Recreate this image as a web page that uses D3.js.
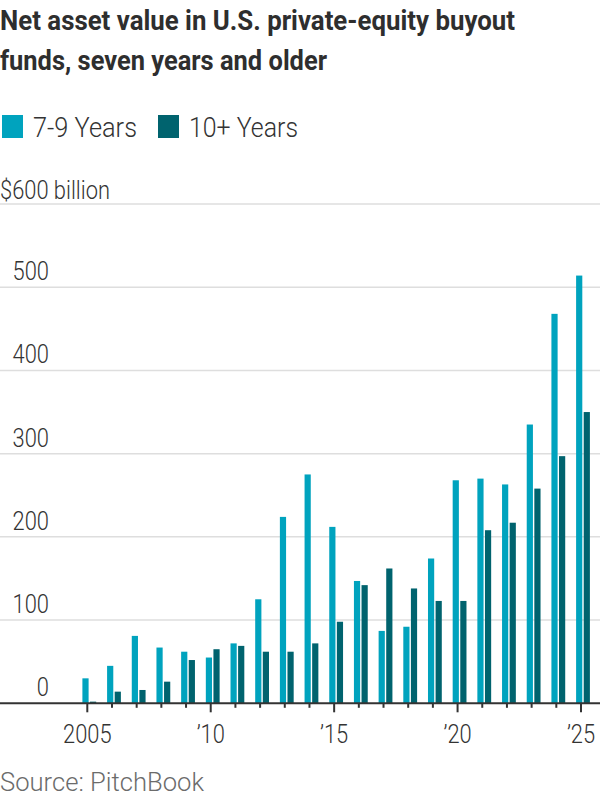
<!DOCTYPE html>
<html>
<head>
<meta charset="utf-8">
<script src="https://cdn.jsdelivr.net/npm/d3@7"></script>
<style>
  body { margin: 0; background: #fff; }
  svg { display: block; }
  text { font-family: Roboto, "Noto Sans", sans-serif; fill: #333; }
</style>
</head>
<body>
<div id="chart"></div>
<script>
'use strict';

// data ($ billion)
var years = [2005, 2006, 2007, 2008, 2009, 2010, 2011, 2012, 2013, 2014, 2015,
  2016, 2017, 2018, 2019, 2020, 2021, 2022, 2023, 2024, 2025];
var sevenToNine = [30, 45, 81, 67, 62, 55, 72, 125, 224, 275, 212,
  147, 87, 92, 174, 268, 270, 263, 335, 468, 514];
var tenPlus = [2, 14, 16, 26, 52, 65, 69, 62, 62, 72, 98,
  142, 162, 138, 123, 123, 208, 217, 258, 297, 350];
var seriesNames = ['7-9 Years', '10+ Years'];
var seriesColors = ['#00a3be', '#00636e'];
var yTicks = [0, 100, 200, 300, 400, 500, 600];
var xLabels = {2005: '2005', 2010: '\u201910', 2015: '\u201915', 2020: '\u201920', 2025: '\u201925'};

var width = 600, height = 800;

// the original uses a narrow face, so squeeze Roboto to the same widths
function squeeze(sel, w) {
  sel.each(function () {
    var len = w || this.getComputedTextLength() * 0.875;
    d3.select(this).attr('textLength', len).attr('lengthAdjust', 'spacingAndGlyphs');
  });
}

var svg = d3.select('#chart')
  .append('svg')
  .attr('width', width)
  .attr('height', height);

// title
svg.append('text')
  .attr('x', 0)
  .attr('y', 30)
  .attr('font-size', '28px')
  .attr('font-weight', 'bold')
  .style('fill', '#2e2e2e')
  .text('Net asset value in U.S. private-equity buyout')
  .call(squeeze, 515);
svg.append('text')
  .attr('x', 0)
  .attr('y', 70)
  .attr('font-size', '28px')
  .attr('font-weight', 'bold')
  .style('fill', '#2e2e2e')
  .text('funds, seven years and older')
  .call(squeeze, 327);

// legend
var legendX = [2, 158];
var legendW = [104, 109];
var legend = svg.append('g').attr('class', 'legend');
seriesNames.forEach(function (name, i) {
  legend.append('rect')
    .attr('x', legendX[i])
    .attr('y', 115)
    .attr('width', 21)
    .attr('height', 23)
    .style('fill', seriesColors[i]);
  legend.append('text')
    .attr('x', legendX[i] + 31)
    .attr('y', 137)
    .attr('font-size', '28px')
    .attr('font-weight', 300)
    .text(name)
    .call(squeeze, legendW[i]);
});

var y = d3.scaleLinear()
  .domain([0, 600])
  .range([703.3, 204]);

var x = d3.scaleLinear()
  .domain([2005, 2025])
  .range([87.3, 581]);

// grid
var grid = svg.append('g').attr('class', 'grid');
grid.selectAll('line')
  .data(yTicks.slice(1))
  .enter()
  .append('line')
  .attr('x1', 0)
  .attr('x2', width)
  .attr('y1', function (d) { return y(d); })
  .attr('y2', function (d) { return y(d); })
  .style('stroke', '#dedede')
  .style('stroke-width', 1.5);

grid.selectAll('text')
  .data(yTicks)
  .enter()
  .append('text')
  .attr('x', function (d) { return d === 600 ? 0 : 49; })
  .attr('y', function (d) { return y(d) - (d === 600 ? 5 : 7); })
  .attr('text-anchor', function (d) { return d === 600 ? 'start' : 'end'; })
  .attr('font-size', '25px')
  .attr('font-weight', 300)
  .text(function (d) { return d === 600 ? '$600 billion' : d; })
  .call(squeeze);

// bars
var barW = 6.2, gap = 1.4, offset = 2;
var bars = svg.append('g').attr('class', 'bars');
[sevenToNine, tenPlus].forEach(function (series, s) {
  bars.selectAll('rect.s' + s)
    .data(series)
    .enter()
    .append('rect')
    .attr('class', 's' + s)
    .attr('x', function (d, i) {
      var c = x(years[i]) + offset;
      return s === 0 ? c - gap / 2 - barW : c + gap / 2;
    })
    .attr('y', function (d) { return y(d); })
    .attr('width', barW)
    .attr('height', function (d) { return y(0) - y(d); })
    .style('fill', seriesColors[s]);
});

// x axis
var axis = svg.append('g').attr('class', 'axis');
axis.append('line')
  .attr('x1', 0)
  .attr('x2', width)
  .attr('y1', y(0))
  .attr('y2', y(0))
  .style('stroke', '#333')
  .style('stroke-width', 2);

axis.selectAll('line.tick')
  .data(years)
  .enter()
  .append('line')
  .attr('class', 'tick')
  .attr('x1', function (d) { return x(d); })
  .attr('x2', function (d) { return x(d); })
  .attr('y1', y(0))
  .attr('y2', function (d) { return y(0) + (xLabels[d] ? 9 : 4.5); })
  .style('stroke', '#333')
  .style('stroke-width', 2);

axis.selectAll('text')
  .data(years.filter(function (d) { return xLabels[d]; }))
  .enter()
  .append('text')
  .attr('x', function (d) { return x(d); })
  .attr('y', 743)
  .attr('text-anchor', 'middle')
  .attr('font-size', '25px')
  .attr('font-weight', 300)
  .text(function (d) { return xLabels[d]; })
  .call(squeeze);

// source
svg.append('text')
  .attr('x', 0)
  .attr('y', 791)
  .attr('font-size', '26px')
  .attr('font-weight', 300)
  .style('fill', '#6b6b6b')
  .text('Source: PitchBook')
  .call(squeeze, 204);
</script>
</body>
</html>
